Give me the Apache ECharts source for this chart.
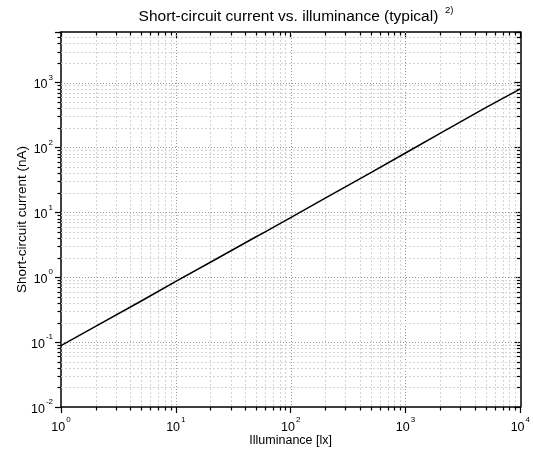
<!DOCTYPE html>
<html><head><meta charset="utf-8">
<script src="https://cdn.jsdelivr.net/npm/echarts@6/dist/echarts.min.js"></script>
<style>html,body{margin:0;padding:0;background:#fff}#c{width:533px;height:454px}</style>
</head><body><div id="c"></div>
<script>
// ---- data ----
const illuminance = [1, 2, 5, 10, 20, 50, 60, 100, 200, 500, 1000, 2000, 5000, 10000];
const current = [0.088, 0.175, 0.43, 0.86, 1.7, 4.2, 5.0, 8.3, 16.5, 41, 82, 165, 410, 800];
const xRange = [1, 10000];
const yRange = [0.01, 6000];
const titleText = 'Short-circuit current vs. illuminance (typical)';
const titleNote = '2)';
const xName = 'Illuminance [lx]';
const yName = 'Short-circuit current (nA)';

const FONT = '"Liberation Sans", Arial, sans-serif';

function isPow10(v) {
  const l = Math.log10(v);
  return Math.abs(l - Math.round(l)) < 1e-9;
}
function subValues(r) {
  const out = [];
  const d0 = Math.floor(Math.log10(r[0]) + 1e-9), d1 = Math.ceil(Math.log10(r[1]) - 1e-9);
  for (let d = d0; d <= d1; d++) {
    for (let m = 1; m <= 9; m++) {
      const v = parseFloat((m * Math.pow(10, d)).toPrecision(8));
      if (v >= r[0] * (1 - 1e-9) && v <= r[1] * (1 + 1e-9)) out.push(v);
    }
  }
  return out;
}
function labelFmt(value) {
  if (!isPow10(value)) return '';
  return '{b|10}{s|' + Math.round(Math.log10(value)) + '}';
}
const labelRich = {
  b: { fontSize: 12.5, fontFamily: FONT, color: '#000', lineHeight: 18, verticalAlign: 'bottom' },
  s: { fontSize: 8, fontFamily: FONT, color: '#000', lineHeight: 18, verticalAlign: 'top', padding: [0, 0, 0, 1] }
};

const px = v => Math.round(v) + 0.5;

function renderGrid(params, api) {
  const ch = [];
  const p0 = api.coord([xRange[0], yRange[0]]);
  const p1 = api.coord([xRange[1], yRange[1]]);
  const xL = p0[0], xR = p1[0], yB = p0[1], yT = p1[1];
  const minorLen = 3.5;
  const majorStyle = { stroke: '#999', lineWidth: 1, lineDash: [1, 2] };
  const minorStyle = { stroke: '#d4d4d4', lineWidth: 1, lineDash: [2, 2] };
  const tickStyle = { stroke: '#000', lineWidth: 1.2 };
  subValues(xRange).forEach(v => {
    const x = px(api.coord([v, yRange[0]])[0]);
    const major = isPow10(v);
    if (x > xL + 2 && x < xR - 2) {
      ch.push({ type: 'line', shape: { x1: x, y1: yT, x2: x, y2: yB }, style: major ? majorStyle : minorStyle });
    }
    if (!major) {
      ch.push({ type: 'line', shape: { x1: x, y1: yB, x2: x, y2: yB + minorLen }, style: tickStyle });
      ch.push({ type: 'line', shape: { x1: x, y1: yT, x2: x, y2: yT + minorLen }, style: tickStyle });
    }
  });
  subValues(yRange).forEach(v => {
    const y = px(api.coord([xRange[0], v])[1]);
    const major = isPow10(v);
    if (y < yB - 2 && y > yT + 2) {
      ch.push({ type: 'line', shape: { x1: xL, y1: y, x2: xR, y2: y }, style: major ? majorStyle : minorStyle });
    }
    if (!major) {
      ch.push({ type: 'line', shape: { x1: xL - minorLen, y1: y, x2: xL, y2: y }, style: tickStyle });
      ch.push({ type: 'line', shape: { x1: xR - minorLen, y1: y, x2: xR, y2: y }, style: tickStyle });
    }
  });
  return { type: 'group', children: ch };
}

const axisLineStyle = { color: '#000', width: 1.5 };
const tickLineStyle = { color: '#000', width: 1.2 };

const chart = echarts.init(document.getElementById('c'), null, { renderer: 'canvas' });
chart.setOption({
  animation: false,
  backgroundColor: '#fff',
  graphic: [{
    type: 'text', x: 296, y: 15,
    style: {
      text: '{t|' + titleText + '}  {n|' + titleNote + '}',
      align: 'center', verticalAlign: 'middle',
      rich: {
        t: { fontSize: 15.5, fontFamily: FONT, fill: '#000', lineHeight: 20, verticalAlign: 'bottom' },
        n: { fontSize: 9.5, fontFamily: FONT, fill: '#000', lineHeight: 20, verticalAlign: 'top' }
      }
    }
  }],
  grid: { left: 61, right: 11, top: 32, bottom: 47, containLabel: false },
  xAxis: [{
    type: 'log', logBase: 10, min: xRange[0], max: xRange[1], position: 'bottom',
    axisLine: { show: true, onZero: false, lineStyle: axisLineStyle },
    axisTick: { show: true, inside: false, length: 6, lineStyle: tickLineStyle },
    minorTick: { show: false }, splitLine: { show: false },
    axisLabel: { formatter: labelFmt, rich: labelRich, margin: 9, color: '#000' },
    name: xName, nameLocation: 'middle', nameGap: 27, nameMoveOverlap: false,
    nameTextStyle: { fontSize: 12.5, fontFamily: FONT, color: '#000' }
  }, {
    type: 'log', logBase: 10, min: xRange[0], max: xRange[1], position: 'top',
    axisLine: { show: true, onZero: false, lineStyle: axisLineStyle },
    axisTick: { show: true, inside: true, length: 6, lineStyle: tickLineStyle },
    minorTick: { show: false }, splitLine: { show: false }, axisLabel: { show: false }
  }],
  yAxis: [{
    type: 'log', logBase: 10, min: yRange[0], max: yRange[1], position: 'left',
    axisLine: { show: true, onZero: false, lineStyle: axisLineStyle },
    axisTick: { show: true, inside: false, length: 6, lineStyle: tickLineStyle },
    minorTick: { show: false }, splitLine: { show: false },
    axisLabel: { formatter: labelFmt, rich: labelRich, margin: 8, color: '#000' },
    name: yName, nameLocation: 'middle', nameGap: 32, nameRotate: 90, nameMoveOverlap: false,
    nameTextStyle: { fontSize: 13.5, fontFamily: FONT, color: '#000' }
  }, {
    type: 'log', logBase: 10, min: yRange[0], max: yRange[1], position: 'right',
    axisLine: { show: true, onZero: false, lineStyle: axisLineStyle },
    axisTick: { show: true, inside: true, length: 6, lineStyle: tickLineStyle },
    minorTick: { show: false }, splitLine: { show: false }, axisLabel: { show: false }
  }],
  series: [{
    type: 'custom', coordinateSystem: 'cartesian2d', xAxisIndex: 0, yAxisIndex: 0,
    clip: false, silent: true, z: 1,
    data: [[xRange[0], yRange[0]]],
    renderItem: renderGrid
  }, {
    type: 'line', xAxisIndex: 0, yAxisIndex: 0, z: 5,
    data: illuminance.map((x, i) => [x, current[i]]),
    showSymbol: false, symbol: 'none',
    lineStyle: { color: '#000', width: 1.5 }
  }]
});
</script></body></html>
